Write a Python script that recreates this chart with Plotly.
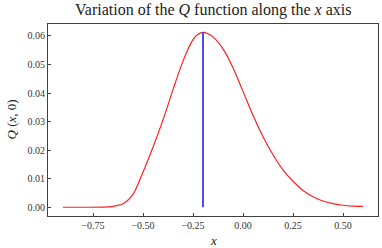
import plotly.graph_objects as go

x_vals = [-0.9, -0.8, -0.7, -0.65, -0.6, -0.55, -0.5, -0.45, -0.4, -0.35, -0.3,
          -0.25, -0.225, -0.2, -0.175, -0.15, -0.1, -0.05, 0.0, 0.05, 0.1, 0.15,
          0.2, 0.25, 0.3, 0.35, 0.4, 0.45, 0.5, 0.55, 0.6]
q_vals = [0.0, 0.0, 0.00005, 0.0003, 0.0012, 0.0045, 0.0123, 0.0210, 0.0306,
          0.0412, 0.0512, 0.0587, 0.0606, 0.0613, 0.0608, 0.0597, 0.0555,
          0.0489, 0.0406, 0.0322, 0.0247, 0.0184, 0.0131, 0.0091, 0.0059,
          0.0037, 0.0022, 0.0013, 0.0007, 0.0004, 0.0003]
peak_x = -0.2
peak_q = 0.0613

x_ticks = [-0.75, -0.5, -0.25, 0.0, 0.25, 0.5]
y_ticks = [0.0, 0.01, 0.02, 0.03, 0.04, 0.05, 0.06]

font = "Liberation Serif"

fig = go.Figure()
fig.add_trace(go.Scatter(x=x_vals, y=q_vals, mode="lines",
                         line=dict(color="#ff2020", width=1.2, shape="spline", smoothing=0.8),
                         hoverinfo="skip"))
fig.add_trace(go.Scatter(x=[peak_x, peak_x], y=[0.0, peak_q], mode="lines",
                         line=dict(color="#3a3ae8", width=1.8), hoverinfo="skip"))

axis_common = dict(showgrid=False, zeroline=False, showline=True, mirror=True,
                   linecolor="#404040", linewidth=1, ticks="inside", ticklen=3,
                   tickcolor="#404040", tickwidth=1, automargin=False,
                   tickfont=dict(family=font, size=10, color="#333333"))

fig.update_layout(
    width=382, height=248,
    margin=dict(l=48, r=4, t=24, b=32),
    paper_bgcolor="white", plot_bgcolor="white",
    showlegend=False,
    xaxis=dict(range=[-0.975, 0.675], tickvals=x_ticks, tickformat=".2f", **axis_common),
    yaxis=dict(range=[-0.00306, 0.0642], tickvals=y_ticks, tickformat=".2f", **axis_common),
    annotations=[
        dict(text="Variation of the <i>Q</i> function along the <i>x</i> axis",
             xref="paper", yref="paper", x=0.5, y=1.0, xanchor="center", yanchor="bottom",
             yshift=3, showarrow=False,
             font=dict(family=font, size=16, color="#222222")),
        dict(text="<i>x</i>", xref="paper", yref="paper", x=0.5, y=0, xanchor="center",
             yanchor="top", yshift=-15, showarrow=False,
             font=dict(family=font, size=13, color="#222222")),
        dict(text="<i>Q</i> (<i>x</i>, 0)", xref="paper", yref="paper", x=0, y=0.5,
             xanchor="right", yanchor="middle", xshift=-28, textangle=-90, showarrow=False,
             font=dict(family=font, size=13, color="#222222")),
    ],
)

fig.write_html("out.html", config={"displayModeBar": False},
               post_script="document.body.style.margin='0';document.body.style.overflow='hidden';")
